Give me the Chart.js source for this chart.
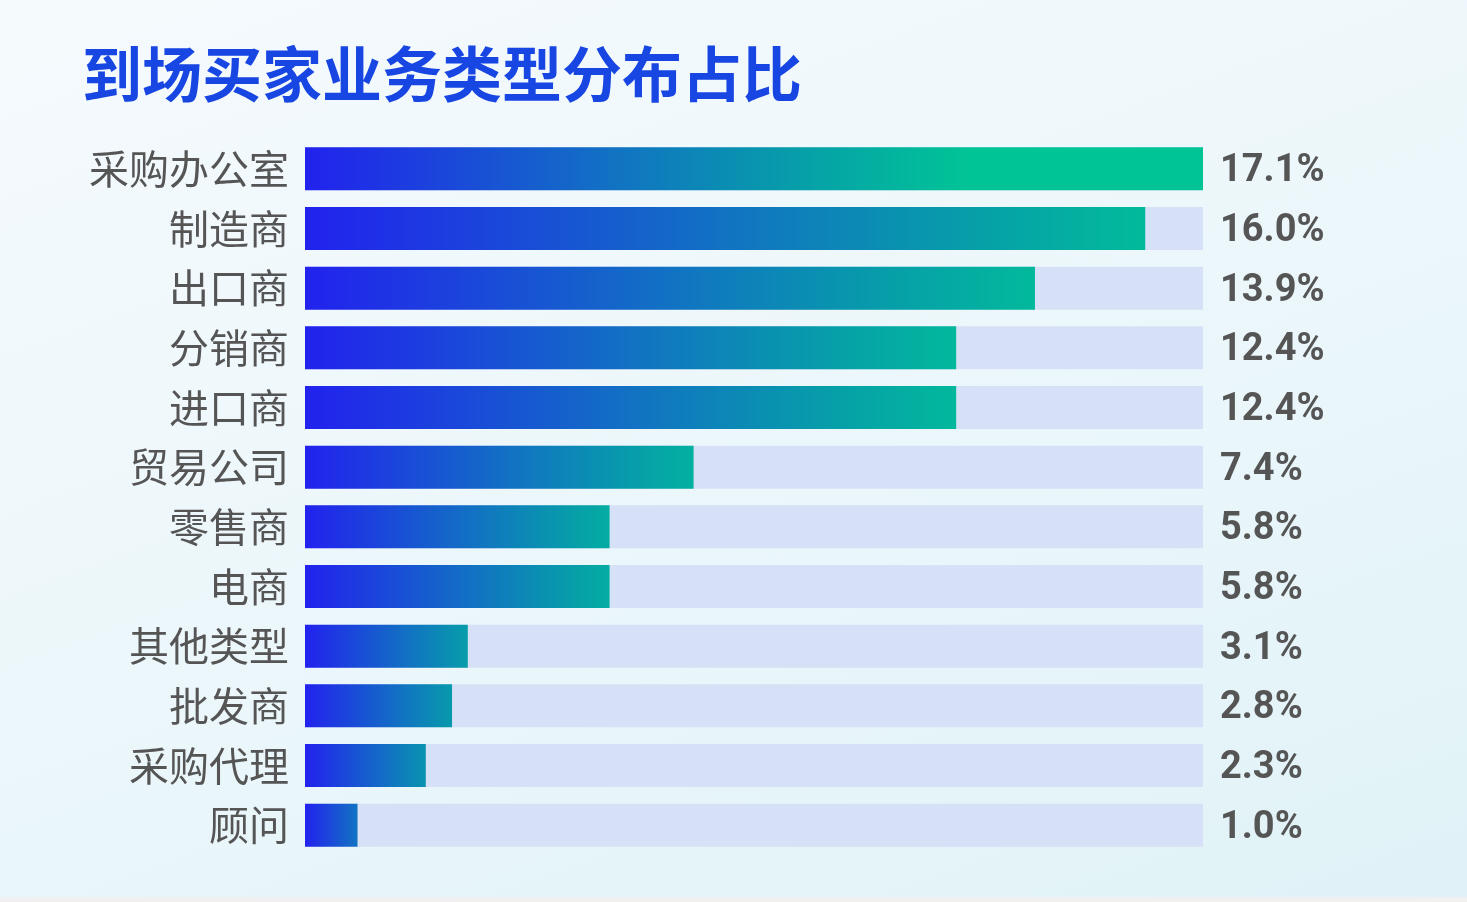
<!DOCTYPE html>
<html>
<head>
<meta charset="utf-8">
<script src="https://cdn.jsdelivr.net/npm/chart.js@4.4.1/dist/chart.umd.min.js"></script>
<style>
    html, body { margin: 0; padding: 0; background: #f0f0f0; }
    #wrap {
        width: 1467px;
        height: 897px;
        background: linear-gradient(160deg, #f5fafd 0%, #ecf7fb 50%, #e0f2f7 100%);
    }
    canvas { display: block; }
</style>
</head>
<body>
<div id="wrap"><canvas id="typeChart" width="1467" height="897"></canvas></div>
<script>
const categories = ['采购办公室', '制造商', '出口商', '分销商', '进口商', '贸易公司', '零售商', '电商', '其他类型', '批发商', '采购代理', '顾问'];
const shares = [17.1, 16.0, 13.9, 12.4, 12.4, 7.4, 5.8, 5.8, 3.1, 2.8, 2.3, 1.0];
const maxShare = 17.1;
const trackValues = categories.map(() => maxShare);

const LABEL_COLOR = '#555555';

// gradient runs along each bar; short bars stop before reaching full green
const barGradient = (context) => {
    const chart = context.chart;
    const xScale = chart.scales.x;
    if (!chart.chartArea || !xScale) return '#1a6fd0';
    const x0 = xScale.getPixelForValue(0);
    const x1 = xScale.getPixelForValue(context.raw);
    const len = x1 - x0;
    const span = context.dataIndex === 0 ? len * 0.74 : len + 60;
    const g = chart.ctx.createLinearGradient(x0, 0, x0 + span, 0);
    g.addColorStop(0, '#2222ee');
    g.addColorStop(0.45, '#1270c4');
    g.addColorStop(0.75, '#06a0a8');
    g.addColorStop(1, '#00c496');
    return g;
};

const valueLabels = {
    id: 'valueLabels',
    afterDatasetsDraw(chart) {
        const ctx = chart.ctx;
        const meta = chart.getDatasetMeta(0);
        const right = chart.chartArea.right;
        ctx.save();
        ctx.font = 'bold 38px Roboto, "Noto Sans", sans-serif';
        ctx.fillStyle = LABEL_COLOR;
        ctx.textAlign = 'left';
        ctx.textBaseline = 'middle';
        meta.data.forEach((bar, i) => {
            ctx.fillText(shares[i].toFixed(1) + '%', right + 17, bar.y + 3);
        });
        ctx.restore();
    }
};

const ctx = document.getElementById('typeChart').getContext('2d');
new Chart(ctx, {
    type: 'bar',
    data: {
        labels: categories,
        datasets: [{
            label: '占比',
            data: shares,
            backgroundColor: barGradient,
            borderWidth: 0,
            barPercentage: 0.72,
            categoryPercentage: 1,
            grouped: false,
            order: 1
        }, {
            label: 'track',
            data: trackValues,
            backgroundColor: '#d6e1f7',
            borderWidth: 0,
            barPercentage: 0.72,
            categoryPercentage: 1,
            grouped: false,
            order: 2
        }]
    },
    options: {
        indexAxis: 'y',
        responsive: false,
        animation: false,
        devicePixelRatio: 1,
        layout: {
            padding: { top: 40, left: 82, right: 264, bottom: 42 }
        },
        plugins: {
            legend: { display: false },
            tooltip: { enabled: false },
            title: {
                display: true,
                text: '到场买家业务类型分布占比',
                align: 'start',
                color: '#1846e3',
                font: { family: '"Noto Sans CJK SC", sans-serif', size: 60, weight: 'bold', lineHeight: 1.15 },
                padding: { top: 0, bottom: 30 }
            }
        },
        scales: {
            x: {
                display: false,
                min: 0,
                max: maxShare
            },
            y: {
                grid: { display: false },
                border: { display: false },
                afterFit(scale) { scale.width = 223; },
                ticks: {
                    color: LABEL_COLOR,
                    padding: 8,
                    font: { family: '"Noto Sans CJK SC", sans-serif', size: 40 }
                }
            }
        }
    },
    plugins: [valueLabels]
});
</script>
</body>
</html>
